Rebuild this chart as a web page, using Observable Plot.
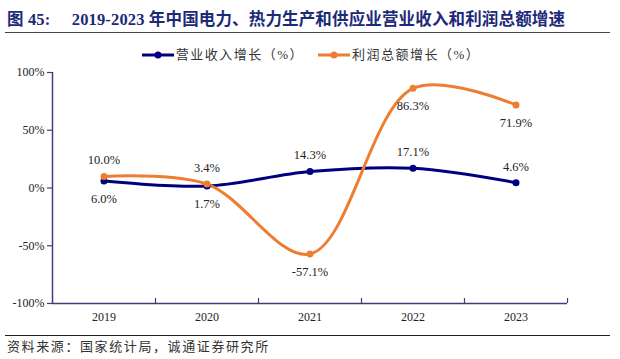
<!DOCTYPE html>
<html>
<head>
<meta charset="utf-8">
<script src="https://cdn.jsdelivr.net/npm/d3@7"></script>
<script src="https://cdn.jsdelivr.net/npm/@observablehq/plot@0.6"></script>
<style>
  body { margin: 0; background: #fff; }
  #wrap { position: relative; width: 620px; height: 359px; overflow: hidden; font-family: "Liberation Serif", "Noto Sans CJK SC", serif; }
  #title { position: absolute; left: 7px; top: 10px; font-size: 16.5px; line-height: 20px; font-weight: bold; color: #1c2a78; white-space: pre; letter-spacing: 0.15px; }
  #uline { position: absolute; left: 5px; top: 32px; width: 605px; border-top: 1.5px solid #444; }
  #legend { position: absolute; left: 0; width: 622px; top: 46px; display: flex; justify-content: center; gap: 14px; font-size: 13px; line-height: 18px; color: #333; letter-spacing: 1.5px; }
  #legend .item { display: flex; align-items: center; gap: 2px; }
  #chart { position: absolute; left: 0; top: 0; }
  #bline { position: absolute; left: 5px; top: 335px; width: 605px; border-top: 1px solid #222; }
  #source { position: absolute; left: 7px; top: 338px; font-size: 13px; line-height: 16px; color: #333; font-family: "Noto Sans CJK SC", sans-serif; letter-spacing: 1.6px; }
</style>
</head>
<body>
<div id="wrap">
  <div id="chart"></div>
  <div id="title"></div>
  <div id="uline"></div>
  <div id="legend"></div>
  <div id="bline"></div>
  <div id="source"></div>
</div>
<script>
const titleText = "图 45:     2019-2023 年中国电力、热力生产和供应业营业收入和利润总额增速";
const sourceText = "资料来源：国家统计局，诚通证券研究所";
const years = [2019, 2020, 2021, 2022, 2023];
const revenue = [6.0, 1.7, 14.3, 17.1, 4.6];
const profit = [10.0, 3.4, -57.1, 86.3, 71.9];
const seriesNames = ["营业收入增长（%）", "利润总额增长（%）"];
const yTicks = [-100, -50, 0, 50, 100];

const colors = ["#00007f", "#ed7d31"];
const axisColor = "#3e3e78";

document.getElementById("title").textContent = titleText;
document.getElementById("source").textContent = sourceText;

// legend
const legend = document.getElementById("legend");
seriesNames.forEach((name, i) => {
  const item = document.createElement("div");
  item.className = "item";
  item.innerHTML = `<svg width="32" height="10"><line x1="0" y1="5" x2="32" y2="5" stroke="${colors[i]}" stroke-width="3"/><circle cx="16" cy="5" r="3.5" fill="${colors[i]}"/></svg><span></span>`;
  item.querySelector("span").textContent = name;
  legend.appendChild(item);
});

const rows = [];
years.forEach((y, i) => {
  rows.push({year: y, value: revenue[i], s: 0});
  rows.push({year: y, value: profit[i], s: 1});
});

// label placement (layout only)
const below = (d) => d.s === 0 ? (d.year <= 2020) : (d.year >= 2021);
const bounds = years.map(y => y + 0.5);
const xDomain = [years[0] - 0.5, years[years.length - 1] + 0.5];

const fmt = v => v.toFixed(1) + "%";

const chart = Plot.plot({
  width: 620,
  height: 359,
  marginTop: 72,
  marginBottom: 56,
  marginLeft: 52,
  marginRight: 53,
  style: {fontFamily: "'Liberation Serif', 'Times New Roman', serif", fontSize: "12px", background: "transparent", color: "#222"},
  x: {type: "linear", domain: xDomain, axis: null, label: null},
  y: {domain: [-100, 100], axis: null, label: null},
  marks: [
    Plot.ruleY([-100], {stroke: axisColor, strokeWidth: 1.5}),
    Plot.ruleX([xDomain[0]], {stroke: axisColor, strokeWidth: 1.5}),
    Plot.axisY(yTicks, {tickSize: 5, tickPadding: 3, tickFormat: d => d + "%", stroke: axisColor, fill: "#222", fontSize: 12, strokeWidth: 1.2, label: null}),
    Plot.axisX(bounds, {anchor: "bottom", tickSize: 5, dy: -5, tickFormat: () => "", stroke: axisColor, strokeWidth: 1.2, label: null}),
    Plot.text(years, {x: d => d, frameAnchor: "bottom", dy: 17, text: d => String(d), fill: "#222", fontSize: 12}),
    Plot.line(rows.filter(d => d.s === 0), {x: "year", y: "value", stroke: colors[0], strokeWidth: 3, curve: "catmull-rom"}),
    Plot.line(rows.filter(d => d.s === 1), {x: "year", y: "value", stroke: colors[1], strokeWidth: 3, curve: "catmull-rom"}),
    Plot.dot(rows, {x: "year", y: "value", fill: d => colors[d.s], r: 3.5}),
    Plot.text(rows, {x: "year", y: "value", text: d => fmt(d.value), fill: "#222", fontSize: 12.5,
      filter: d => !below(d), dy: -16}),
    Plot.text(rows, {x: "year", y: "value", text: d => fmt(d.value), fill: "#222", fontSize: 12.5,
      filter: d => below(d), dy: 18})
  ]
});
document.getElementById("chart").appendChild(chart);
</script>
</body>
</html>
